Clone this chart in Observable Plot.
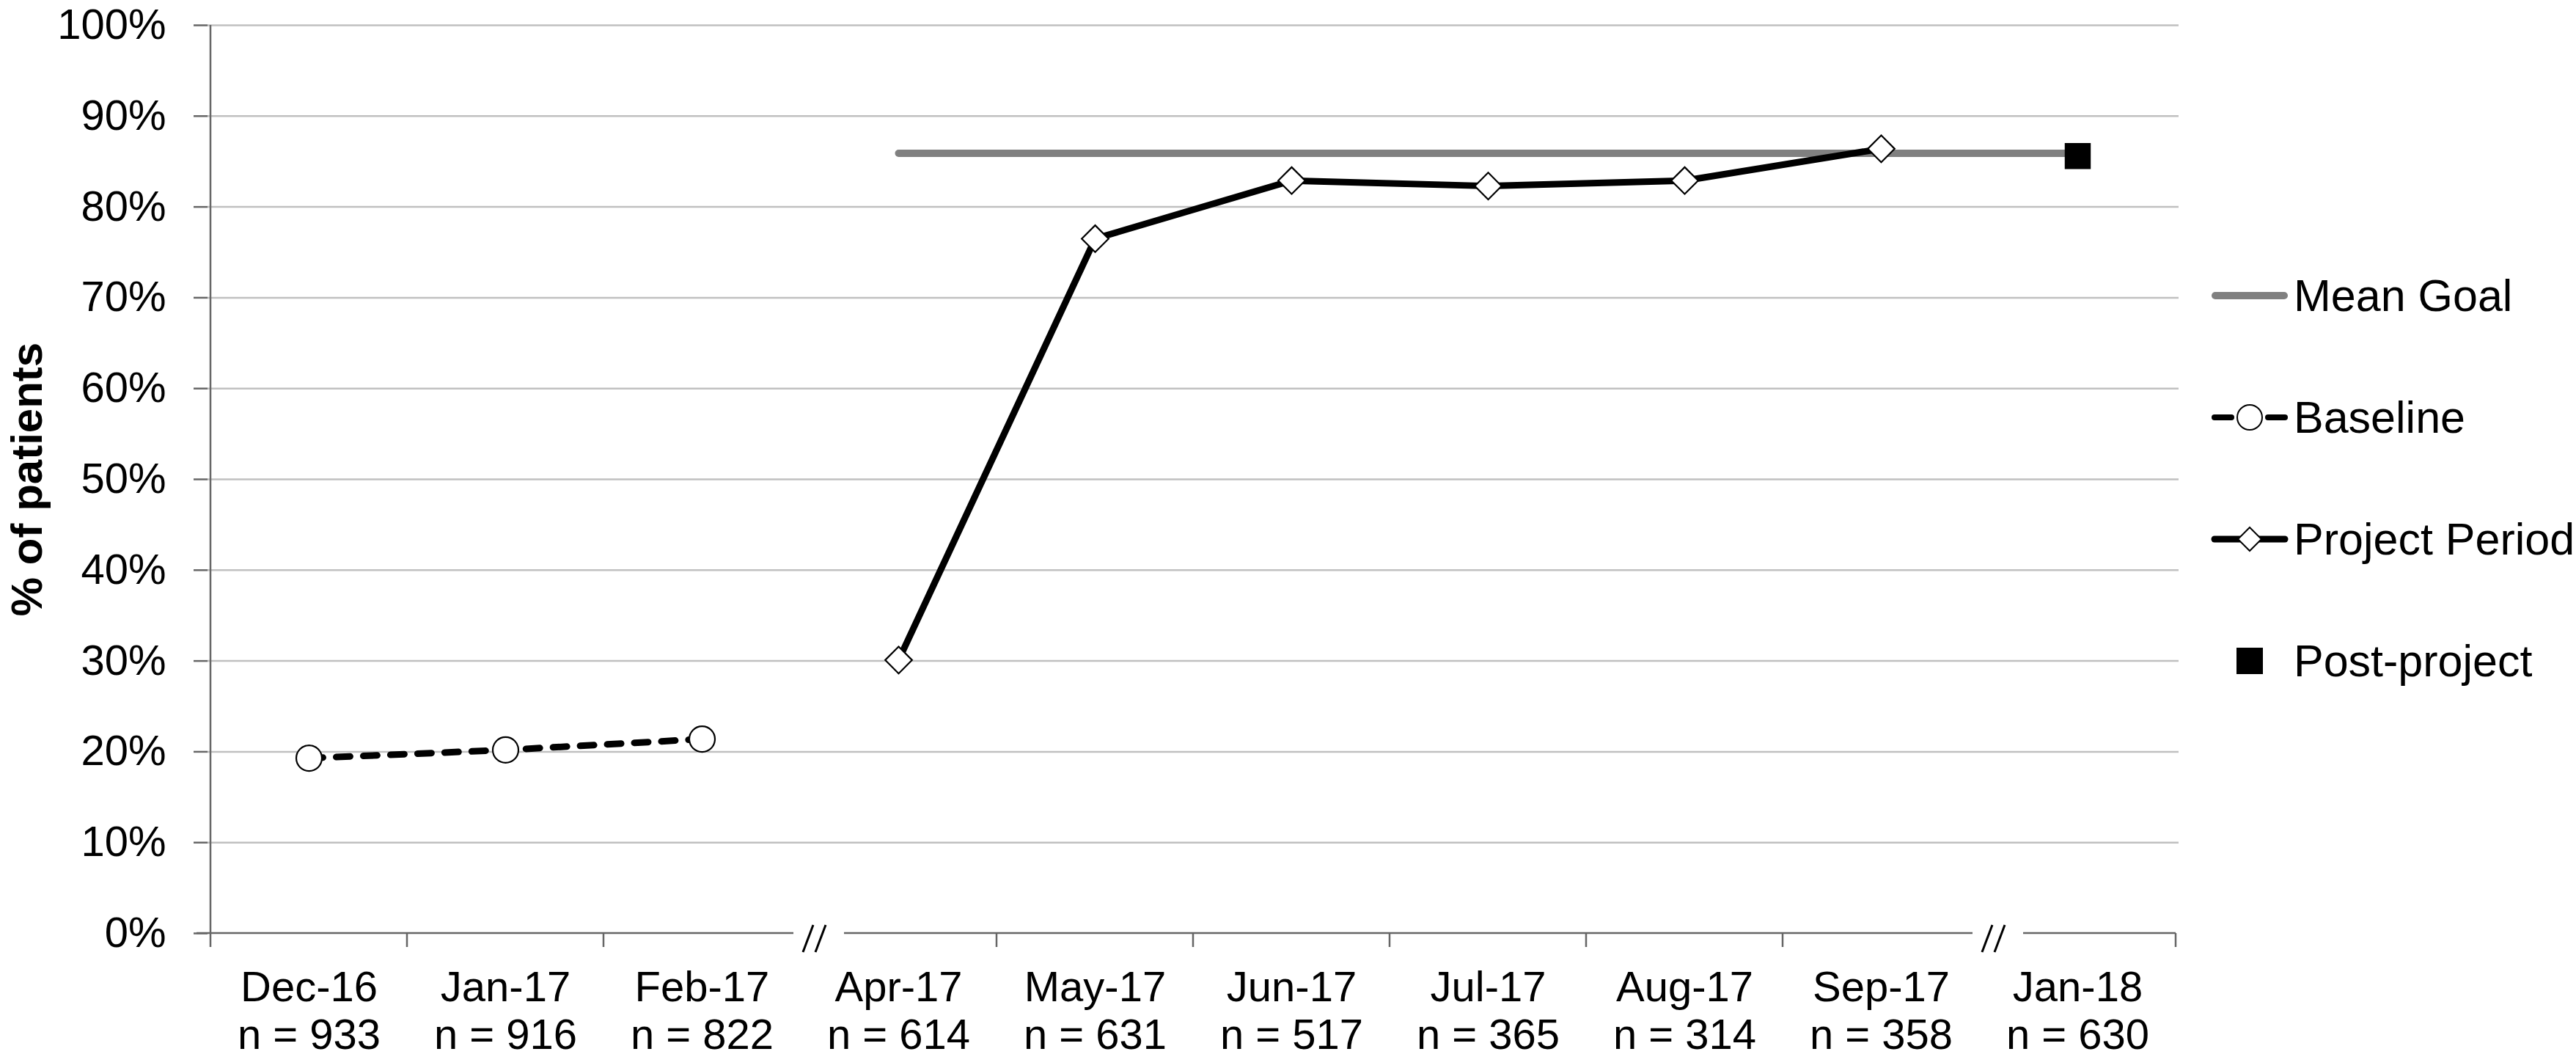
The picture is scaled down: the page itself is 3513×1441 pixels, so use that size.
<!DOCTYPE html>
<html>
<head>
<meta charset="utf-8">
<script src="https://cdn.jsdelivr.net/npm/d3@7"></script>
<script src="https://cdn.jsdelivr.net/npm/@observablehq/plot@0.6"></script>
<style>
  html, body { margin: 0; padding: 0; background: #fff; }
  #chart { width: 3513px; height: 1441px; }
</style>
</head>
<body>
<div id="chart"></div>
<script>
// ---- data ----
const categories = ["Dec-16", "Jan-17", "Feb-17", "Apr-17", "May-17", "Jun-17", "Jul-17", "Aug-17", "Sep-17", "Jan-18"];
const sampleSizes = [933, 916, 822, 614, 631, 517, 365, 314, 358, 630];
const baselineMonths = ["Dec-16", "Jan-17", "Feb-17"];
const baselineValues = [19.3, 20.2, 21.4];
const projectMonths = ["Apr-17", "May-17", "Jun-17", "Jul-17", "Aug-17", "Sep-17"];
const projectValues = [30.1, 76.5, 82.9, 82.3, 82.9, 86.4];
const postMonths = ["Jan-18"];
const postValues = [85.6];
const goalMonths = ["Apr-17", "Jan-18"];
const goalValue = 85.9;
const breakAfter = ["Feb-17", "Sep-17"];
const yTicks = [0, 10, 20, 30, 40, 50, 60, 70, 80, 90, 100];
const legendLabels = ["Mean Goal", "Baseline", "Project Period", "Post-project"];

const baseline = baselineMonths.map((m, i) => ({month: m, value: baselineValues[i]}));
const project = projectMonths.map((m, i) => ({month: m, value: projectValues[i]}));
const post = postMonths.map((m, i) => ({month: m, value: postValues[i]}));
const goal = goalMonths.map(m => ({month: m, value: goalValue}));

const FONT = "'Liberation Sans', Arial, Helvetica, sans-serif";
const AXIS = "#666666";
const GRID = "#c0c0c0";

const plot = Plot.plot({
  width: 3513,
  height: 1441,
  marginLeft: 283,
  marginRight: 542,
  marginTop: 34,
  marginBottom: 169,
  style: {fontFamily: FONT, fontSize: "58px", background: "white", color: "black"},
  x: {type: "point", domain: categories, padding: 0.5},
  y: {domain: [0, 100]},
  marks: [
    Plot.ruleY(yTicks.filter(d => d > 0), {stroke: GRID, strokeWidth: 2.5}),
    Plot.axisY(yTicks, {tickSize: 19, tickPadding: 38, tickFormat: d => d + "%", fontSize: 58, label: null, stroke: AXIS, strokeWidth: 2.5, fill: "black"}),
    Plot.axisX(categories, {
      tickSize: 0, tickPadding: 46, fontSize: 58, lineHeight: 1.12, label: null, fill: "black",
      tickFormat: d => `${d}\nn = ${sampleSizes[categories.indexOf(d)]}`
    }),
    Plot.text(["% of patients"], {frameAnchor: "left", dx: -246, rotate: -90, fontWeight: "bold", fontSize: 60, fill: "black", textAnchor: "middle", lineAnchor: "middle"}),
    Plot.line(goal, {x: "month", y: "value", stroke: "#808080", strokeWidth: 10, strokeLinecap: "round"}),
    Plot.line(baseline, {x: "month", y: "value", stroke: "black", strokeWidth: 9, strokeDasharray: "19,18", strokeLinecap: "round"}),
    Plot.line(project, {x: "month", y: "value", stroke: "black", strokeWidth: 9, strokeLinejoin: "round"}),
    Plot.dot(baseline, {x: "month", y: "value", r: 17.5, fill: "white", stroke: "black", strokeWidth: 2.2, symbol: "circle"}),
    Plot.dot(project, {x: "month", y: "value", r: 16.5, fill: "white", stroke: "black", strokeWidth: 2.2, symbol: "diamond2"}),
    Plot.dot(post, {x: "month", y: "value", r: 20, fill: "black", stroke: "none", symbol: "square"})
  ]
});

document.getElementById("chart").appendChild(plot);

// ---- axis lines, boundary ticks, break marks (via the plot's scales) ----
const svg = d3.select(plot);
const xs = plot.scale("x"), ys = plot.scale("y");
const cx = categories.map(c => xs.apply(c));
const step = cx[1] - cx[0];
const bounds = d3.range(categories.length + 1).map(i => cx[0] - step / 2 + i * step);
const y0 = ys.apply(0), yTop = ys.apply(100);
const breakIdx = breakAfter.map(m => categories.indexOf(m) + 1);
const g = svg.append("g");

// y-axis line
g.append("line").attr("x1", bounds[0]).attr("x2", bounds[0]).attr("y1", yTop).attr("y2", y0 + 19)
  .attr("stroke", AXIS).attr("stroke-width", 2.5);

// x-axis line with gaps
let start = bounds[0] - 19;
const segs = [];
for (const b of breakIdx) { segs.push([start, bounds[b] - 9]); start = bounds[b] + 60; }
segs.push([start, bounds[bounds.length - 1]]);
for (const [a, b] of segs) {
  g.append("line").attr("x1", a).attr("x2", b).attr("y1", y0).attr("y2", y0)
    .attr("stroke", AXIS).attr("stroke-width", 2.5);
}
// boundary ticks
bounds.forEach((b, i) => {
  if (i === 0 || breakIdx.includes(i)) return;
  g.append("line").attr("x1", b).attr("x2", b).attr("y1", y0).attr("y2", y0 + 19)
    .attr("stroke", AXIS).attr("stroke-width", 2.5);
});
// break marks "//"
for (const bi of breakIdx) {
  const b = bounds[bi];
  for (const off of [4, 21]) {
    g.append("line").attr("x1", b + off).attr("y1", y0 + 26).attr("x2", b + off + 14).attr("y2", y0 - 11)
      .attr("stroke", "black").attr("stroke-width", 3);
  }
}

// ---- legend ----
const lg = svg.append("g").attr("font-family", FONT).attr("font-size", 61).attr("text-anchor", "start");
const lx0 = 3016, lx1 = 3120, lcx = 3068, ltx = 3128;
const rows = [403, 569, 735, 901];
// Mean goal
lg.append("line").attr("x1", lx0 + 5).attr("x2", lx1 - 5).attr("y1", rows[0]).attr("y2", rows[0])
  .attr("stroke", "#808080").attr("stroke-width", 10).attr("stroke-linecap", "round");
// Baseline
lg.append("line").attr("x1", lx0 + 4).attr("x2", lx0 + 27).attr("y1", rows[1]).attr("y2", rows[1])
  .attr("stroke", "black").attr("stroke-width", 8).attr("stroke-linecap", "round");
lg.append("line").attr("x1", lx1 - 27).attr("x2", lx1 - 4).attr("y1", rows[1]).attr("y2", rows[1])
  .attr("stroke", "black").attr("stroke-width", 8).attr("stroke-linecap", "round");
lg.append("circle").attr("cx", lcx).attr("cy", rows[1]).attr("r", 17).attr("fill", "white").attr("stroke", "black").attr("stroke-width", 2);
// Project period
lg.append("line").attr("x1", lx0 + 4).attr("x2", lx1 - 4).attr("y1", rows[2]).attr("y2", rows[2])
  .attr("stroke", "black").attr("stroke-width", 9).attr("stroke-linecap", "round");
lg.append("path").attr("d", `M${lcx},${rows[2] - 16}L${lcx + 16},${rows[2]}L${lcx},${rows[2] + 16}L${lcx - 16},${rows[2]}Z`)
  .attr("fill", "white").attr("stroke", "black").attr("stroke-width", 2);
// Post-project
lg.append("rect").attr("x", lcx - 18).attr("y", rows[3] - 18).attr("width", 36).attr("height", 36).attr("fill", "black");
legendLabels.forEach((t, i) => {
  lg.append("text").attr("x", ltx).attr("y", rows[i]).attr("dy", "0.35em").attr("fill", "black").text(t);
});
</script>
</body>
</html>
